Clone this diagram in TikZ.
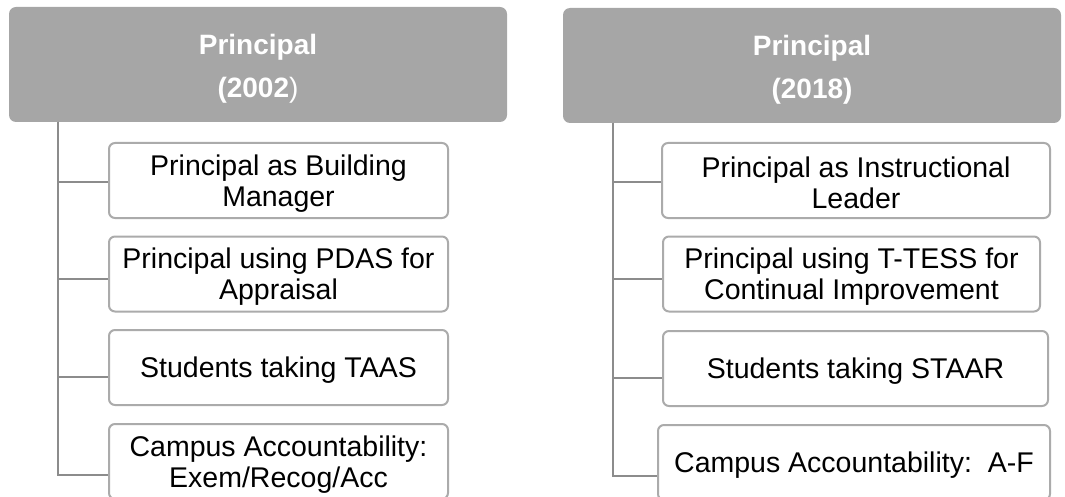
\documentclass[tikz,border=0pt]{standalone}
\usepackage{fontspec}
\setmainfont{Liberation Sans}
\usepackage{tikz}
\definecolor{HeadGray}{HTML}{A6A6A6}
\definecolor{BoxGray}{HTML}{ABABAB}
\definecolor{RailGray}{HTML}{8C8C8C}
\usetikzlibrary{positioning,calc}
\newcommand{\yr}[1]{\textbf{#1}}
\newcommand{\hdstrut}{\rule{0pt}{29pt}}
\newcommand{\itstrut}{\rule{0pt}{26pt}}

\begin{document}
\begin{tikzpicture}[x=1pt, y=-1pt,
    head/.style={rectangle, rounded corners=7pt, fill=HeadGray, text=white, minimum width=498pt, minimum height=115pt, align=center, inner sep=0pt, font=\fontsize{28}{43}\selectfont},
    item/.style={rectangle, rounded corners=6pt, draw=BoxGray, line width=2pt, fill=white, minimum height=75pt, align=center, inner sep=0pt, font=\fontsize{28.5}{31}\selectfont},
    link/.style={draw=RailGray, line width=2.6pt}]
\useasboundingbox (0,0) rectangle (1065,497);

%the two headers
\node[head] (hdA) at (258,64.5) {\hdstrut\yr{Principal}\\\yr{(2002})};
\node[head] (hdB) at (812,65.5) {\hdstrut\yr{Principal}\\\yr{(2018)}};

% rail start points
\coordinate (railA) at (58,122);
\coordinate (railB) at (613,123);

%left column
\node[item, minimum width=339pt] (bA1) at (278.5,180.5) {\itstrut Principal as Building\\Manager};
\node[item, minimum width=339pt] (bA2) at (278.5,274) {\itstrut Principal using PDAS for\\Appraisal};
\node[item, minimum width=339pt] (bA3) at (278.5,367.5) {\itstrut Students taking TAAS};
\node[item, minimum width=339pt] (bA4) at (278.5,461.5) {\itstrut Campus Accountability:\\Exem/Recog/Acc};

%right column
\node[item, minimum width=388pt] (bB1) at (856,180.5) {\itstrut Principal as Instructional\\Leader};
\node[item, minimum width=377pt] (bB2) at (851.5,274) {\itstrut Principal using T-TESS for\\Continual Improvement};
\node[item, minimum width=385pt] (bB3) at (855.5,368.5) {\itstrut Students taking STAAR};
\node[item, minimum width=392pt] (bB4) at (854,462.5) {\itstrut Campus Accountability:\ \ A-F};

% draw the connectors
\foreach \i/\d in {1/1.5, 2/5, 3/9.5, 4/13.5}{
    \draw[link] (railA) |- ([yshift=-\d pt]bA\i.west);
    \draw[link] (railB) |- ([yshift=-\d pt]bB\i.west);
}
\end{tikzpicture}
\end{document}
